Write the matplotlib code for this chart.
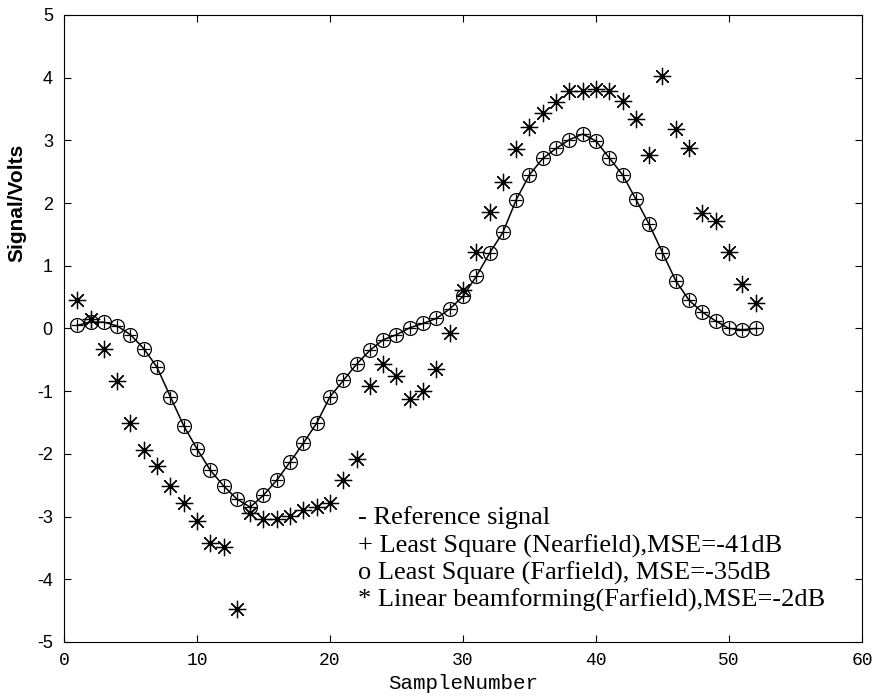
import numpy as np
import matplotlib
matplotlib.use("Agg")
import matplotlib.pyplot as plt

plt.rcParams["axes.unicode_minus"] = False

# sample index
samples = np.arange(1, 53)

# reference signal (the least square estimates sit on top of it)
ref_signal = [0.05, 0.10, 0.10, 0.04, -0.10, -0.32, -0.62, -1.09, -1.55, -1.92,
              -2.26, -2.51, -2.72, -2.85, -2.66, -2.42, -2.13, -1.83, -1.51, -1.09,
              -0.83, -0.57, -0.35, -0.18, -0.10, 0.01, 0.08, 0.16, 0.31, 0.51,
              0.83, 1.20, 1.53, 2.05, 2.45, 2.71, 2.87, 3.01, 3.10, 2.99,
              2.72, 2.45, 2.06, 1.66, 1.21, 0.76, 0.45, 0.26, 0.12, 0.00,
              -0.02, 0.00]
ls_near = ref_signal
ls_far = ref_signal

# linear beamforming (farfield)
lin_bf = [0.46, 0.15, -0.33, -0.84, -1.50, -1.94, -2.20, -2.51, -2.79, -3.07,
          -3.42, -3.48, -4.47, -2.94, -3.04, -3.04, -2.99, -2.90, -2.85, -2.79,
          -2.42, -2.08, -0.91, -0.57, -0.76, -1.12, -0.99, -0.65, -0.07, 0.62,
          1.22, 1.85, 2.33, 2.86, 3.22, 3.44, 3.61, 3.79, 3.79, 3.82,
          3.78, 3.63, 3.34, 2.76, 4.02, 3.18, 2.88, 1.84, 1.72, 1.22,
          0.71, 0.41]

legend_lines = ["- Reference signal",
                "+ Least Square (Nearfield),MSE=-41dB",
                "o Least Square (Farfield), MSE=-35dB",
                "* Linear beamforming(Farfield),MSE=-2dB"]

fig = plt.figure(figsize=(8.75, 6.96), dpi=100)
ax = fig.add_axes([0.0731, 0.0776, 0.912, 0.901])

ax.plot(samples, ref_signal, "-", color="black", lw=1.1)
ax.plot(samples, ls_near, "+", color="black", ms=9, mew=0.9)
ax.plot(samples, ls_far, "o", mfc="none", mec="black", ms=10, mew=0.9)
ax.plot(samples, lin_bf, linestyle="none", marker=(8, 2, 0), color="black", ms=12.5, mew=0.9)

ax.set_xlim(0, 60)
ax.set_ylim(-5, 5)
ax.set_xticks(range(0, 61, 10))
ax.set_yticks(range(-5, 6))
ax.tick_params(direction="in", top=True, right=True, length=5, width=0.8)
for lab in ax.get_xticklabels():
    lab.set_family("Liberation Mono")
    lab.set_fontsize(13)
for lab in ax.get_yticklabels():
    lab.set_family("Liberation Sans")
    lab.set_fontsize(13)
ax.tick_params(axis="y", pad=8)
ax.tick_params(axis="x", pad=7)

ax.set_xlabel("SampleNumber", family="Liberation Mono", fontsize=15, labelpad=4)
ax.set_ylabel("Signal/Volts", family="Liberation Sans", fontsize=15, fontweight="bold", labelpad=4)
ax.yaxis.set_label_coords(-0.047, 0.70)

ys = [0.198, 0.153, 0.110, 0.067]
for txt, y in zip(legend_lines, ys):
    ax.text(0.368, y, txt, transform=ax.transAxes, family="Liberation Serif",
            fontsize=19, va="center", ha="left")

fig.savefig("out.png", dpi=100)
